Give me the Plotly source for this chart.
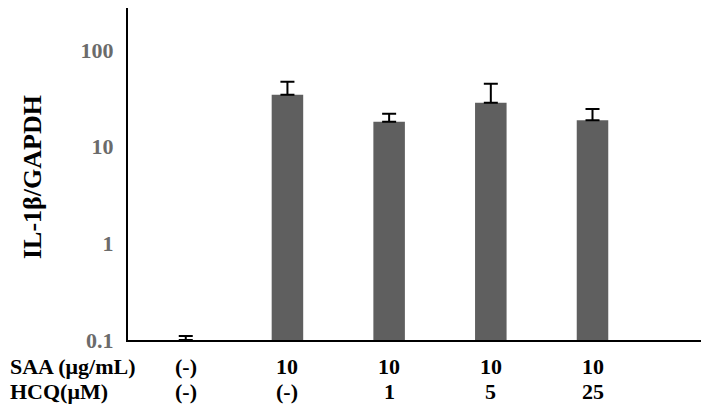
import plotly.graph_objects as go

# groups (one bar each) and readings off the log axis
groups = ['ctrl', 'SAA', 'SAA+HCQ1', 'SAA+HCQ5', 'SAA+HCQ25']
il1b = [0.1, 34.4, 18.1, 28.4, 18.7]
il1b_err = [0.01, 12.5, 3.8, 16.3, 5.8]

saa_labels = ['(-)', '10', '10', '10', '10']
hcq_labels = ['(-)', '(-)', '1', '5', '25']
row_names = ['SAA (μg/mL)', 'HCQ(μM)']

ytick_vals = [0.1, 1, 10, 100]
ytick_text = ['0.1', '1', '10', '100']

serif = 'Liberation Serif, Times New Roman, serif'
row_y = [-0.0813, -0.1566]

fig = go.Figure()
fig.add_trace(go.Bar(
    x=groups, y=il1b,
    width=0.31,
    marker=dict(color='#5f5f5f', line=dict(width=0)),
    error_y=dict(type='data', array=il1b_err, arrayminus=[0] * len(il1b_err),
                 symmetric=False, color='black', thickness=2, width=7),
))

ann = []
# table under the axis
for i, g in enumerate(groups):
    for j, lab in enumerate([saa_labels[i], hcq_labels[i]]):
        ann.append(dict(x=g, xref='x', y=row_y[j], yref='paper', text='<b>%s</b>' % lab,
                        showarrow=False, xanchor='center', yanchor='middle',
                        font=dict(family=serif, size=22, color='black')))
for j, name in enumerate(row_names):
    ann.append(dict(x=-0.2073, xref='paper', y=row_y[j], yref='paper',
                    text='<b>%s</b>' % name, showarrow=False, xanchor='left', yanchor='middle',
                    font=dict(family=serif, size=22, color='black')))
# y title
ann.append(dict(x=-0.164, xref='paper', y=0.491, yref='paper', text='<b>IL-1β/GAPDH</b>',
                textangle=-90, showarrow=False, xanchor='center', yanchor='middle',
                font=dict(family=serif, size=26, color='black')))

fig.update_layout(
    width=701, height=398,
    margin=dict(l=120, r=2, t=0, b=66),
    plot_bgcolor='white', paper_bgcolor='white',
    showlegend=False,
    annotations=ann,
    xaxis=dict(type='category', range=[-0.568, 5.126], showticklabels=False,
               showline=True, linecolor='black', linewidth=2, showgrid=False, ticks=''),
    yaxis=dict(type='log', range=[-1, 2.433], tickvals=ytick_vals, ticktext=ytick_text,
               showline=True, linecolor='black', linewidth=2, showgrid=False, ticks='',
               ticklabelstandoff=8, zeroline=False,
               tickfont=dict(family=serif, size=22, color='#6b6b6b', weight='bold')),
)

fig.write_html("out.html")
